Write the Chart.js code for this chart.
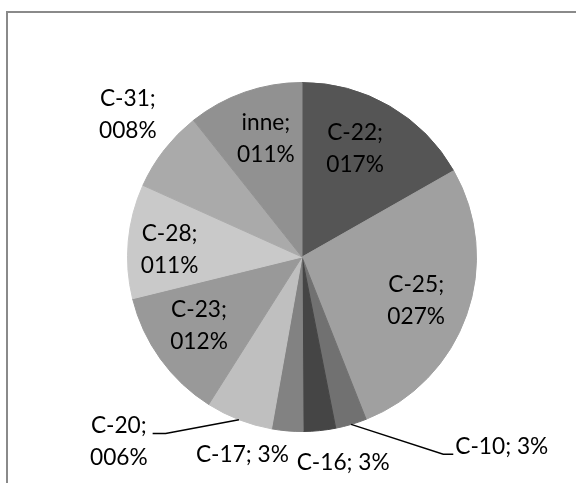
<!DOCTYPE html>
<html>
<head>
<meta charset="utf-8">
<script src="https://cdn.jsdelivr.net/npm/chart.js@4.4.1/dist/chart.umd.min.js"></script>
<style>
  html, body { margin: 0; padding: 0; background: #fff; overflow: hidden; }
  #wrap { width: 576px; height: 483px; position: relative; }
</style>
</head>
<body>
<div id="wrap"><canvas id="c" width="576" height="483"></canvas></div>
<script>
// Share of each group, in percent, clockwise from the top
const categories = ['C-22', 'C-25', 'C-10', 'C-16', 'C-17', 'C-20', 'C-23', 'C-28', 'C-31', 'inne'];
const shares = [16.8, 27.3, 2.9, 3.0, 2.9, 6.2, 12.2, 10.6, 7.6, 10.7];

// Slice fills (grey scale)
const sliceColors = ['#555555', '#a0a0a0', '#717171', '#454545', '#828282',
                     '#bfbfbf', '#999999', '#c9c9c9', '#aaaaaa', '#919191'];

// Label placement: distance from centre (fraction of radius) and turn from the slice's mid angle (deg)
const labelLayout = [
  { dist: 0.69, turn: -4 },
  { dist: 0.70, turn: 1.4 },
  { dist: 1.577, turn: -30.2, oneLine: true, leader: 'left', leaderDy: 8, elbow: 10 },
  { dist: 1.20, turn: -5.6, oneLine: true },
  { dist: 1.185, turn: 11.9, oneLine: true },
  { dist: 1.49, turn: 23.6, leader: 'right', leaderDy: -8, elbow: 13 },
  { dist: 0.71, turn: 2 },
  { dist: 0.76, turn: -2 },
  { dist: 1.29, turn: 1.4 },
  { dist: 0.71, turn: 2.3 }
];

const FONT = '22.7px Lato, "Open Sans", sans-serif';
const LINE_H = 32;

function pctText(v, padded) {
  const n = String(Math.round(v));
  return (padded ? n.padStart(3, '0') : n) + '%';
}

const framePlugin = {
  id: 'frame',
  beforeDraw(chart) {
    const ctx = chart.ctx;
    ctx.save();
    ctx.strokeStyle = '#8a8a8a';
    ctx.lineWidth = 2;
    ctx.beginPath();
    ctx.moveTo(7, 490);
    ctx.lineTo(7, 12);
    ctx.lineTo(590, 12);
    ctx.stroke();
    ctx.restore();
  }
};

const labelPlugin = {
  id: 'sliceLabels',
  afterDatasetsDraw(chart) {
    const ctx = chart.ctx;
    const meta = chart.getDatasetMeta(0);
    ctx.save();
    ctx.font = FONT;
    ctx.fillStyle = '#000';
    ctx.textAlign = 'center';
    ctx.textBaseline = 'middle';
    meta.data.forEach((arc, i) => {
      const p = arc.getProps(['x', 'y', 'startAngle', 'endAngle', 'outerRadius'], true);
      const L = labelLayout[i];
      const mid = (p.startAngle + p.endAngle) / 2;
      const a = mid + L.turn * Math.PI / 180;
      const lx = p.x + Math.cos(a) * p.outerRadius * L.dist;
      const ly = p.y + Math.sin(a) * p.outerRadius * L.dist;
      const lines = L.oneLine
        ? [categories[i] + '; ' + pctText(shares[i], false)]
        : [categories[i] + ';', pctText(shares[i], true)];
      const w = Math.max(...lines.map(t => ctx.measureText(t).width));
      const top = ly - (lines.length - 1) * LINE_H / 2;
      lines.forEach((t, k) => ctx.fillText(t, lx, top + k * LINE_H));

      if (L.leader) {
        const sx = p.x + Math.cos(mid) * p.outerRadius;
        const sy = p.y + Math.sin(mid) * p.outerRadius;
        const ey = ly + L.leaderDy;
        const ex = L.leader === 'left' ? lx - w / 2 - 2 : lx + w / 2 + 5;
        const bx = L.leader === 'left' ? ex - L.elbow : ex + L.elbow;
        ctx.strokeStyle = '#000';
        ctx.lineWidth = 1.4;
        ctx.beginPath();
        ctx.moveTo(sx, sy);
        ctx.lineTo(bx, ey);
        ctx.lineTo(ex, ey);
        ctx.stroke();
      }
    });
    ctx.restore();
  }
};

function draw() {
  new Chart(document.getElementById('c'), {
    type: 'pie',
    data: {
      labels: categories,
      datasets: [{
        data: shares,
        backgroundColor: sliceColors,
        borderColor: sliceColors,
        borderWidth: 1
      }]
    },
    options: {
      responsive: false,
      devicePixelRatio: 1,
      animation: false,
      layout: { padding: { top: 82, bottom: 51, left: 127, right: 99 } },
      plugins: {
        legend: { display: false },
        tooltip: { enabled: false }
      }
    },
    plugins: [framePlugin, labelPlugin]
  });
}

if (document.fonts && document.fonts.load) {
  document.fonts.load(FONT).then(draw, draw);
} else {
  draw();
}
</script>
</body>
</html>
